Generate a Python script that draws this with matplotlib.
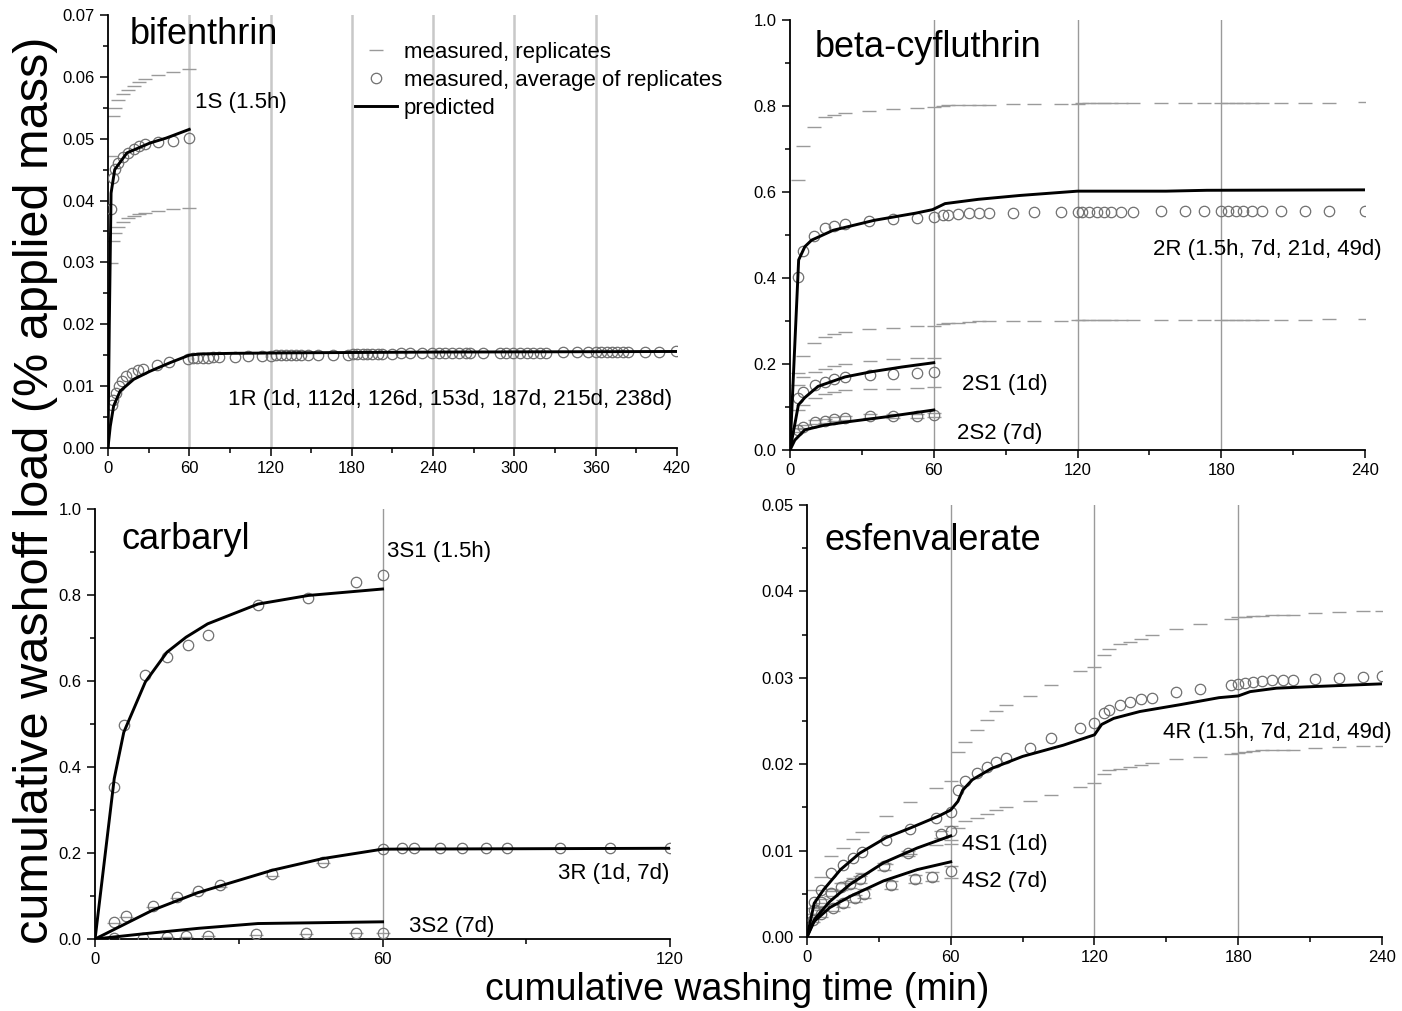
import matplotlib
matplotlib.use('Agg')
import matplotlib.pyplot as plt
from matplotlib.ticker import MultipleLocator, FormatStrFormatter
from matplotlib.lines import Line2D

plt.rcParams['font.family'] = ['Liberation Sans', 'DejaVu Sans']

# ---------------- bifenthrin ----------------
bif_1s_x = [2, 3.5, 5.5, 7.5, 11, 15, 19, 23, 27, 37, 48, 59.5]
bif_1s_avg = [0.0386, 0.0436, 0.0451, 0.0461, 0.0470, 0.0477, 0.0483, 0.0488, 0.0491, 0.0494, 0.0497, 0.0501]
bif_1s_hi = [0.0472, 0.0537, 0.0549, 0.0563, 0.0572, 0.0579, 0.0585, 0.0591, 0.0596, 0.0603, 0.0607, 0.0613]
bif_1s_lo = [0.0299, 0.0335, 0.0347, 0.0358, 0.0366, 0.0371, 0.0375, 0.0378, 0.0380, 0.0383, 0.0386, 0.0388]
bif_1s_pred_x = [0, 1, 2.3, 5, 14, 31, 43, 60]
bif_1s_pred = [0, 0.020, 0.0412, 0.0450, 0.0477, 0.0493, 0.0501, 0.0515]

bif_1r_x = [3, 4, 6, 8, 10, 13.5, 17.5, 22, 26, 36, 45, 59, 63, 66, 70, 74, 77.5, 82, 93.5, 103,
            114, 120.5, 124, 128, 131.5, 135, 139, 142.5, 147.5, 155, 166, 177, 180.5, 184, 188,
            191.5, 195, 199, 202.5, 210, 216, 223, 232, 239, 244, 249, 254, 259, 264, 267.5, 277,
            289, 294, 299, 304, 309, 314, 319, 323, 336, 346, 354, 360.5, 364, 368, 372, 376, 380,
            384, 396, 407, 419]
bif_1r_avg = [0.0070, 0.0078, 0.0089, 0.0100, 0.0108, 0.0116, 0.0122, 0.0126, 0.0127, 0.0134,
              0.0139, 0.0144, 0.0145, 0.0145, 0.0146, 0.0146, 0.0147, 0.0147, 0.0147, 0.0148,
              0.0148, 0.0149, 0.0150, 0.0150, 0.0150, 0.0150, 0.0150, 0.0150, 0.0150, 0.0151,
              0.0151, 0.0151, 0.0152, 0.0152, 0.0152, 0.0152, 0.0152, 0.0152, 0.0152, 0.0152,
              0.0153, 0.0153, 0.0153, 0.0153, 0.0154, 0.0154, 0.0154, 0.0154, 0.0154, 0.0154,
              0.0154, 0.0154, 0.0154, 0.0154, 0.0154, 0.0154, 0.0154, 0.0154, 0.0154, 0.0155,
              0.0155, 0.0155, 0.0155, 0.0155, 0.0155, 0.0155, 0.0155, 0.0155, 0.0155, 0.0155,
              0.0155, 0.0157]
bif_1r_pred_x = [0, 1.7, 4.2, 9, 19, 31, 46, 60, 68, 92, 150, 240, 420]
bif_1r_pred = [0, 0.0035, 0.0068, 0.0092, 0.0111, 0.0124, 0.0138, 0.0150, 0.0152, 0.0153, 0.0154, 0.0155, 0.0156]

# ---------------- beta-cyfluthrin ----------------
cyf_2r_x = [3.5, 5.5, 10, 14.5, 18.5, 23, 33, 43, 53, 60, 64, 66, 70, 74.5, 79, 83, 93, 102, 113,
            120, 122, 125, 128, 131, 134, 138, 143, 155, 165, 173, 180, 183, 186, 189, 193, 197,
            205, 215, 225, 240]
cyf_2r_avg = [0.403, 0.462, 0.498, 0.516, 0.521, 0.526, 0.533, 0.537, 0.539, 0.541, 0.546, 0.547,
              0.549, 0.551, 0.551, 0.551, 0.552, 0.553, 0.553, 0.553, 0.553, 0.554, 0.554, 0.554,
              0.554, 0.554, 0.554, 0.555, 0.555, 0.555, 0.555, 0.555, 0.555, 0.555, 0.555, 0.555,
              0.555, 0.555, 0.556, 0.556]
cyf_2r_hi = [0.628, 0.707, 0.751, 0.774, 0.779, 0.783, 0.789, 0.793, 0.796, 0.798, 0.801, 0.802,
             0.802, 0.802, 0.803, 0.803, 0.805, 0.805, 0.805, 0.805, 0.806, 0.806, 0.806, 0.806,
             0.806, 0.806, 0.806, 0.807, 0.807, 0.807, 0.808, 0.808, 0.808, 0.808, 0.808, 0.808,
             0.808, 0.808, 0.808, 0.809]
cyf_2r_lo = [0.178, 0.219, 0.248, 0.263, 0.270, 0.275, 0.281, 0.284, 0.288, 0.289, 0.293, 0.295,
             0.296, 0.298, 0.299, 0.299, 0.300, 0.301, 0.301, 0.302, 0.302, 0.302, 0.302, 0.302,
             0.302, 0.302, 0.302, 0.303, 0.303, 0.303, 0.303, 0.303, 0.303, 0.303, 0.303, 0.303,
             0.303, 0.303, 0.304, 0.304]
cyf_2r_pred_x = [0, 3.6, 6.2, 9, 18, 35, 52.6, 59.5, 64.7, 78.6, 96, 120, 157, 174, 240]
cyf_2r_pred = [0, 0.442, 0.473, 0.488, 0.511, 0.534, 0.551, 0.559, 0.573, 0.583, 0.592, 0.602, 0.602, 0.604, 0.605]

cyf_s_x = [3.5, 5.5, 10.5, 14.5, 18.5, 23, 33.5, 43, 53, 60]
cyf_2s1_avg = [0.121, 0.136, 0.151, 0.159, 0.165, 0.170, 0.174, 0.177, 0.180, 0.181]
cyf_2s1_hi = [0.150, 0.170, 0.182, 0.188, 0.195, 0.200, 0.208, 0.212, 0.214, 0.215]
cyf_2s1_lo = [0.093, 0.105, 0.120, 0.131, 0.135, 0.139, 0.141, 0.143, 0.145, 0.146]
cyf_2s1_pred_x = [0, 3.5, 6.2, 11.7, 23, 34, 46.7, 60]
cyf_2s1_pred = [0, 0.105, 0.122, 0.148, 0.170, 0.182, 0.193, 0.203]

cyf_2s2_avg = [0.046, 0.054, 0.065, 0.068, 0.072, 0.074, 0.079, 0.079, 0.079, 0.081]
cyf_2s2_hi = [0.051, 0.059, 0.070, 0.073, 0.077, 0.079, 0.084, 0.084, 0.084, 0.086]
cyf_2s2_lo = [0.041, 0.049, 0.060, 0.063, 0.067, 0.069, 0.074, 0.074, 0.074, 0.076]
cyf_2s2_pred_x = [0, 2, 6.2, 14.6, 26, 40, 60]
cyf_2s2_pred = [0, 0.023, 0.047, 0.058, 0.067, 0.077, 0.093]

# ---------------- carbaryl ----------------
car_3s1_x = [4, 6, 10.5, 15, 19.5, 23.5, 34, 44.5, 54.5, 60]
car_3s1_avg = [0.354, 0.498, 0.615, 0.655, 0.683, 0.707, 0.776, 0.793, 0.831, 0.847]
car_3s1_pred_x = [0, 4, 6, 10.5, 15, 19, 23.5, 34, 44.5, 60]
car_3s1_pred = [0, 0.373, 0.481, 0.598, 0.667, 0.702, 0.733, 0.779, 0.799, 0.814]

car_3r_x = [4, 6.5, 12, 17, 21.5, 26, 37, 47.5, 60, 64, 66.5, 72, 76.5, 81.5, 86, 97, 107.5, 120]
car_3r_avg = [0.039, 0.054, 0.077, 0.097, 0.112, 0.125, 0.151, 0.180, 0.209, 0.211, 0.211, 0.211,
              0.211, 0.211, 0.211, 0.212, 0.212, 0.212]
car_3r_rep = [0.037, 0.052, 0.075, 0.095, 0.110, 0.121, 0.147, 0.176, 0.209, 0.211, 0.211, 0.211,
              0.211, 0.211, 0.211, 0.212, 0.212, 0.212]
car_3r_pred_x = [0, 12, 21.5, 37, 47.5, 60, 120]
car_3r_pred = [0, 0.067, 0.108, 0.160, 0.187, 0.209, 0.211]

car_3s2_x = [4, 10, 15, 19, 23.5, 33.5, 44, 54.5, 60]
car_3s2_avg = [0.002, 0.002, 0.005, 0.007, 0.008, 0.011, 0.013, 0.015, 0.015]
car_3s2_rep = [0.002, 0.002, 0.004, 0.005, 0.006, 0.009, 0.011, 0.013, 0.013]
car_3s2_pred_x = [0, 10, 21.7, 34, 60]
car_3s2_pred = [0, 0.012, 0.025, 0.036, 0.040]

# ---------------- esfenvalerate ----------------
esf_4r_x = [3, 6, 10, 15, 19, 23, 33, 43, 54, 60, 63, 66, 71, 75, 79, 83, 93, 102, 114, 120, 124,
            126, 130.5, 135, 139.5, 144, 154, 164, 177, 180, 183, 186, 190, 194, 198.5, 203, 212,
            222, 232, 240]
esf_4r_avg = [0.0040, 0.0054, 0.0074, 0.0083, 0.0091, 0.0098, 0.0112, 0.0125, 0.0138, 0.0145,
              0.0170, 0.0180, 0.0190, 0.0197, 0.0203, 0.0207, 0.0219, 0.0230, 0.0242, 0.0248,
              0.0259, 0.0263, 0.0268, 0.0272, 0.0275, 0.0277, 0.0283, 0.0287, 0.0292, 0.0293,
              0.0294, 0.0295, 0.0296, 0.0297, 0.0297, 0.0298, 0.0299, 0.0300, 0.0301, 0.0302]
esf_4r_hi = [0.0054, 0.0070, 0.0094, 0.0103, 0.0113, 0.0121, 0.0140, 0.0156, 0.0172, 0.0181,
             0.0214, 0.0226, 0.0240, 0.0251, 0.0261, 0.0268, 0.0279, 0.0292, 0.0308, 0.0313,
             0.0326, 0.0333, 0.0339, 0.0341, 0.0345, 0.0349, 0.0356, 0.0362, 0.0368, 0.0370,
             0.0370, 0.0372, 0.0372, 0.0373, 0.0373, 0.0373, 0.0375, 0.0376, 0.0377, 0.0377]
esf_4r_lo = [0.0027, 0.0039, 0.0053, 0.0062, 0.0068, 0.0074, 0.0085, 0.0096, 0.0106, 0.0112,
             0.0126, 0.0134, 0.0138, 0.0142, 0.0147, 0.0151, 0.0157, 0.0164, 0.0174, 0.0178,
             0.0189, 0.0193, 0.0195, 0.0197, 0.0199, 0.0201, 0.0206, 0.0208, 0.0212, 0.0213,
             0.0214, 0.0215, 0.0216, 0.0216, 0.0217, 0.0217, 0.0219, 0.0220, 0.0221, 0.0221]
esf_4r_pred_x = [0, 3, 7, 14, 22, 33, 43, 55, 60, 63, 65, 69, 77, 90, 107, 120, 123, 128, 139,
                 156, 172, 180, 185, 196, 213, 240]
esf_4r_pred = [0, 0.0039, 0.0055, 0.0078, 0.0097, 0.0115, 0.0126, 0.0140, 0.0147, 0.0157, 0.0170,
               0.0182, 0.0195, 0.0209, 0.0222, 0.0234, 0.0246, 0.0253, 0.0261, 0.0269, 0.0277,
               0.0279, 0.0284, 0.0288, 0.0290, 0.0293]

esf_4s1_x = [3, 6, 10, 14, 18, 22, 32, 42, 56, 60]
esf_4s1_avg = [0.0031, 0.0040, 0.0051, 0.0058, 0.0061, 0.0067, 0.0082, 0.0097, 0.0119, 0.0123]
esf_4s1_hi = [0.0034, 0.0044, 0.0055, 0.0062, 0.0065, 0.0071, 0.0086, 0.0100, 0.0123, 0.0128]
esf_4s1_lo = [0.0027, 0.0036, 0.0047, 0.0054, 0.0057, 0.0063, 0.0078, 0.0094, 0.0115, 0.0108]
esf_4s1_pred_x = [0, 3, 9.5, 18, 32, 46, 60]
esf_4s1_pred = [0, 0.0020, 0.0041, 0.0061, 0.0086, 0.0103, 0.0117]

esf_4s2_x = [2.5, 6, 11, 15, 20, 24, 35, 45, 52, 60]
esf_4s2_avg = [0.0020, 0.0027, 0.0034, 0.0039, 0.0045, 0.0050, 0.0060, 0.0067, 0.0070, 0.0076]
esf_4s2_hi = [0.0023, 0.0031, 0.0038, 0.0043, 0.0049, 0.0055, 0.0065, 0.0072, 0.0075, 0.0082]
esf_4s2_lo = [0.0017, 0.0023, 0.0030, 0.0035, 0.0041, 0.0045, 0.0055, 0.0062, 0.0065, 0.0068]
esf_4s2_pred_x = [0, 3, 9.5, 18, 32, 46, 60]
esf_4s2_pred = [0, 0.0018, 0.0034, 0.0047, 0.0065, 0.0078, 0.0087]

REP = dict(ls='none', marker='_', ms=10, mew=1.0, color='#9a9a9a', zorder=2)
AVG = dict(ls='none', marker='o', ms=7.5, mfc='none', mew=0.9, mec='#707070', zorder=3)
PRED = dict(color='black', lw=2.1, zorder=4)
LAB = 16


def style_axes(ax, xmax, ymax, ystep, yfmt, grid_x, grid_color, grid_lw):
    ax.set_xlim(0, xmax)
    ax.set_ylim(0, ymax)
    ax.xaxis.set_major_locator(MultipleLocator(60))
    ax.xaxis.set_minor_locator(MultipleLocator(30))
    ax.yaxis.set_major_locator(MultipleLocator(ystep))
    ax.yaxis.set_minor_locator(MultipleLocator(ystep / 2))
    ax.yaxis.set_major_formatter(FormatStrFormatter(yfmt))
    for s in ['top', 'right']:
        ax.spines[s].set_visible(False)
    for s in ['left', 'bottom']:
        ax.spines[s].set_linewidth(1.3)
    ax.tick_params(which='both', direction='out', width=1.1, labelsize=12)
    ax.tick_params(which='major', length=6)
    ax.tick_params(which='minor', length=3.5)
    for g in grid_x:
        ax.axvline(g, color=grid_color, lw=grid_lw, zorder=1)


fig = plt.figure(figsize=(14.02, 10.11), dpi=100)

# bifenthrin
ax1 = fig.add_axes([0.0770, 0.5569, 0.4059, 0.4283])
style_axes(ax1, 420, 0.07, 0.01, '%.2f', [60, 120, 180, 240, 300, 360], '#c8c8c8', 1.8)
ax1.plot(bif_1s_x, bif_1s_hi, **REP)
ax1.plot(bif_1s_x, bif_1s_lo, **REP)
ax1.plot(bif_1s_x, bif_1s_avg, **AVG)
ax1.plot(bif_1s_pred_x, bif_1s_pred, **PRED)
ax1.plot(bif_1r_x, bif_1r_avg, **AVG)
ax1.plot(bif_1r_pred_x, bif_1r_pred, **PRED)
ax1.text(16.2, 0.0653, 'bifenthrin', fontsize=26)
ax1.text(64.2, 0.0550, '1S (1.5h)', fontsize=LAB)
ax1.text(88.6, 0.0069, '1R (1d, 112d, 126d, 153d, 187d, 215d, 238d)', fontsize=LAB)

handles = [Line2D([], [], **REP), Line2D([], [], **AVG), Line2D([], [], **PRED)]
ax1.legend(handles, ['measured, replicates', 'measured, average of replicates', 'predicted'],
           loc='upper left', bbox_to_anchor=(0.434, 0.937), frameon=False, fontsize=LAB,
           borderpad=0, borderaxespad=0, handlelength=1.9, handletextpad=0.3, labelspacing=0.3)

# beta-cyfluthrin
ax2 = fig.add_axes([0.5635, 0.5549, 0.4101, 0.4253])
style_axes(ax2, 240, 1.0, 0.2, '%.1f', [60, 120, 180], '#9a9a9a', 1.0)
ax2.plot(cyf_2r_x, cyf_2r_hi, **REP)
ax2.plot(cyf_2r_x, cyf_2r_lo, **REP)
ax2.plot(cyf_2r_x, cyf_2r_avg, **AVG)
for hi, lo, avg in [(cyf_2s1_hi, cyf_2s1_lo, cyf_2s1_avg), (cyf_2s2_hi, cyf_2s2_lo, cyf_2s2_avg)]:
    ax2.plot(cyf_s_x, hi, **REP)
    ax2.plot(cyf_s_x, lo, **REP)
    ax2.plot(cyf_s_x, avg, **AVG)
ax2.plot(cyf_2r_pred_x, cyf_2r_pred, **PRED)
ax2.plot(cyf_2s1_pred_x, cyf_2s1_pred, **PRED)
ax2.plot(cyf_2s2_pred_x, cyf_2s2_pred, **PRED)
ax2.text(10.4, 0.914, 'beta-cyfluthrin', fontsize=26)
ax2.text(247, 0.453, '2R (1.5h, 7d, 21d, 49d)', fontsize=LAB, ha='right', clip_on=False)
ax2.text(71.8, 0.1395, '2S1 (1d)', fontsize=LAB)
ax2.text(69.7, 0.0256, '2S2 (7d)', fontsize=LAB)

# carbaryl
ax3 = fig.add_axes([0.0678, 0.0712, 0.4101, 0.4253])
style_axes(ax3, 120, 1.0, 0.2, '%.1f', [60], '#9a9a9a', 1.0)
ax3.plot(car_3r_x, car_3r_rep, **REP)
ax3.plot(car_3s2_x, car_3s2_rep, **REP)
ax3.plot(car_3s1_x, car_3s1_avg, **AVG)
ax3.plot(car_3r_x, car_3r_avg, **AVG)
ax3.plot(car_3s2_x, car_3s2_avg, **AVG)
ax3.plot(car_3s1_pred_x, car_3s1_pred, **PRED)
ax3.plot(car_3r_pred_x, car_3r_pred, **PRED)
ax3.plot(car_3s2_pred_x, car_3s2_pred, **PRED)
ax3.text(5.5, 0.907, 'carbaryl', fontsize=26)
ax3.text(61.0, 0.889, '3S1 (1.5h)', fontsize=LAB)
ax3.text(119.8, 0.1395, '3R (1d, 7d)', fontsize=LAB, ha='right')
ax3.text(65.5, 0.017, '3S2 (7d)', fontsize=LAB)

# esfenvalerate
ax4 = fig.add_axes([0.5756, 0.0732, 0.4101, 0.4273])
style_axes(ax4, 240, 0.05, 0.01, '%.2f', [60, 120, 180], '#9a9a9a', 1.0)
ax4.plot(esf_4r_x, esf_4r_hi, **REP)
ax4.plot(esf_4r_x, esf_4r_lo, **REP)
ax4.plot(esf_4s1_x, esf_4s1_hi, **REP)
ax4.plot(esf_4s1_x, esf_4s1_lo, **REP)
ax4.plot(esf_4s2_x, esf_4s2_hi, **REP)
ax4.plot(esf_4s2_x, esf_4s2_lo, **REP)
ax4.plot(esf_4r_x, esf_4r_avg, **AVG)
ax4.plot(esf_4s1_x, esf_4s1_avg, **AVG)
ax4.plot(esf_4s2_x, esf_4s2_avg, **AVG)
ax4.plot(esf_4r_pred_x, esf_4r_pred, **PRED)
ax4.plot(esf_4s1_pred_x, esf_4s1_pred, **PRED)
ax4.plot(esf_4s2_pred_x, esf_4s2_pred, **PRED)
ax4.text(7.5, 0.0448, 'esfenvalerate', fontsize=26)
ax4.text(244, 0.0230, '4R (1.5h, 7d, 21d, 49d)', fontsize=LAB, ha='right', clip_on=False)
ax4.text(64.7, 0.0101, '4S1 (1d)', fontsize=LAB)
ax4.text(64.7, 0.0058, '4S2 (7d)', fontsize=LAB)

fig.text(0.025, 0.515, 'cumulative washoff load (% applied mass)', rotation=90,
         ha='center', va='center', fontsize=35)
fig.text(0.526, 0.021, 'cumulative washing time (min)', ha='center', va='center', fontsize=27)

fig.savefig('out.png', dpi=100)
